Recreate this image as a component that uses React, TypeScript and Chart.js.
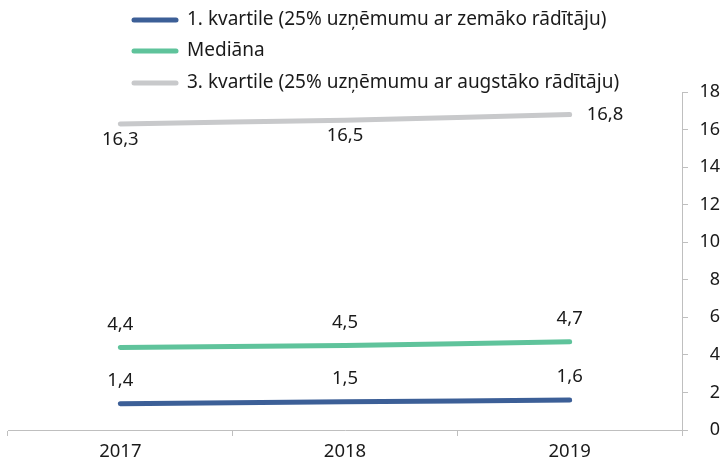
import React, { useEffect, useRef } from "react";
import { Chart, registerables } from "chart.js";

Chart.register(...registerables);

const categories = ["2017", "2018", "2019"];
const q1Values = [1.4, 1.5, 1.6];
const medianValues = [4.4, 4.5, 4.7];
const q3Values = [16.3, 16.5, 16.8];
const seriesNames = [
  "1. kvartile (25% uzņēmumu ar zemāko rādītāju)",
  "Mediāna",
  "3. kvartile (25% uzņēmumu ar augstāko rādītāju)",
];
const seriesColors = ["#3c5f97", "#5fc39b", "#c8c9cb"];
const yTicks = [0, 2, 4, 6, 8, 10, 12, 14, 16, 18];

const FONT = "'Noto Sans', sans-serif";
const TEXT = "#1a1a1a";

const fmt = (v: number) => v.toFixed(1).replace(".", ",");

const labelPlugin = {
  id: "valueLabels",
  afterDatasetsDraw(chart: any) {
    const ctx = chart.ctx;
    ctx.save();
    ctx.font = `18.5px ${FONT}`;
    ctx.fillStyle = TEXT;
    ctx.textBaseline = "middle";
    chart.data.datasets.forEach((ds: any, di: number) => {
      const meta = chart.getDatasetMeta(di);
      meta.data.forEach((pt: any, i: number) => {
        const txt = fmt(ds.data[i]);
        if (di === 2) {
          if (i === ds.data.length - 1) {
            ctx.textAlign = "left";
            ctx.fillText(txt, pt.x + 17, pt.y);
          } else {
            ctx.textAlign = "center";
            ctx.fillText(txt, pt.x, pt.y + 16);
          }
        } else {
          ctx.textAlign = "center";
          ctx.fillText(txt, pt.x, pt.y - 23);
        }
      });
    });
    ctx.restore();
  },
};

const legendPlugin = {
  id: "customLegend",
  afterDraw(chart: any) {
    const ctx = chart.ctx;
    ctx.save();
    const rows = [20, 51, 83];
    seriesNames.forEach((name, i) => {
      ctx.strokeStyle = seriesColors[i];
      ctx.lineWidth = 5;
      ctx.lineCap = "round";
      ctx.beginPath();
      ctx.moveTo(134, rows[i]);
      ctx.lineTo(176, rows[i]);
      ctx.stroke();
      ctx.font = `19px ${FONT}`;
      ctx.fillStyle = TEXT;
      ctx.textAlign = "left";
      ctx.textBaseline = "middle";
      ctx.fillText(name, 187, rows[i]);
    });
    ctx.restore();
  },
};

export default function App() {
  const ref = useRef<HTMLCanvasElement | null>(null);
  useEffect(() => {
    document.body.style.margin = "0";
    const chart = new Chart(ref.current as HTMLCanvasElement, {
      type: "line",
      data: {
        labels: categories,
        datasets: [q1Values, medianValues, q3Values].map((d, i) => ({
          label: seriesNames[i],
          data: d,
          borderColor: seriesColors[i],
          backgroundColor: seriesColors[i],
          borderWidth: 5,
          borderCapStyle: "round",
          pointRadius: 0,
          tension: 0.2,
          fill: false,
        })),
      },
      options: {
        animation: false,
        responsive: false,
        maintainAspectRatio: false,
        layout: { padding: { top: 92, left: 8, right: 2, bottom: 0 } },
        plugins: { legend: { display: false }, tooltip: { enabled: false } },
        scales: {
          x: {
            offset: true,
            grid: {
              offset: true,
              drawOnChartArea: false,
              drawTicks: true,
              tickLength: 6,
              color: "#bfbfbf",
            },
            border: { color: "#bfbfbf", width: 1 },
            ticks: { color: TEXT, font: { family: FONT, size: 18.5 }, padding: 5 },
            afterFit(s: any) {
              s.height = 38;
            },
          },
          y: {
            position: "right",
            min: 0,
            max: 18,
            afterBuildTicks(s: any) {
              s.ticks = yTicks.map((v) => ({ value: v }));
            },
            grid: {
              drawOnChartArea: false,
              drawTicks: true,
              tickLength: 6,
              color: "#bfbfbf",
            },
            border: { color: "#bfbfbf", width: 1 },
            ticks: {
              color: TEXT,
              font: { family: FONT, size: 18 },
              padding: 12,
              crossAlign: "far",
            },
            afterFit(s: any) {
              s.width = 38;
            },
          },
        },
      },
      plugins: [labelPlugin, legendPlugin],
    } as any);
    return () => chart.destroy();
  }, []);
  return (
    <div style={{ width: 722, height: 468 }}>
      <canvas ref={ref} width={722} height={468} style={{ display: "block" }} />
    </div>
  );
}
